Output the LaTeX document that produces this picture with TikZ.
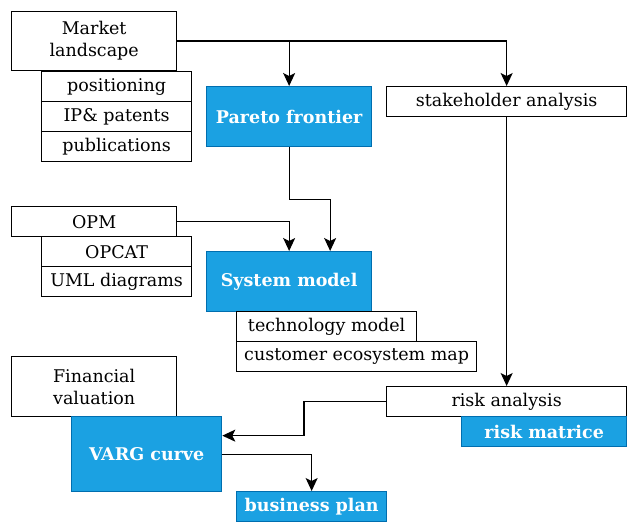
\documentclass[tikz,border=0pt]{standalone}
\usepackage{fontspec}
\setmainfont{DejaVu Serif}
\usepackage{tikz}
\usetikzlibrary{arrows.meta,calc}
\definecolor{boxblue}{HTML}{1BA1E2}
\definecolor{edgeblue}{HTML}{006EAF}

\begin{document}
\begin{tikzpicture}[x=1pt,y=-1pt,
		plain/.style={draw,line width=1.3pt,anchor=north west,inner sep=0pt,align=center,font=\fontsize{17.5}{22}\selectfont},
		hilite/.style={plain,draw=edgeblue,fill=boxblue,text=white,font=\fontsize{17.5}{22}\selectfont\bfseries},
		arr/.style={-{Stealth[length=13pt,width=12pt,inset=3pt]},line width=1.3pt}]
		\useasboundingbox (0,0) rectangle (637,532);
		\node[plain,minimum width=165pt,minimum height=59pt] (market) at (11,11) {Market\\landscape};
		\node[plain,minimum width=150pt,minimum height=30pt] (posit) at (41,71) {positioning};
		\node[plain,minimum width=150pt,minimum height=30pt] (patents) at (41,101) {IP\& patents};
		\node[plain,minimum width=150pt,minimum height=30pt] (pubs) at (41,131) {publications};
		\node[hilite,minimum width=165pt,minimum height=60pt] (pareto) at (206,86) {Pareto frontier};
		\node[plain,minimum width=240pt,minimum height=30pt] (stake) at (386,86) {stakeholder analysis};
		\node[plain,minimum width=165pt,minimum height=30pt] (opm) at (11,206) {OPM};
		\node[plain,minimum width=150pt,minimum height=30pt] (opcat) at (41,236) {OPCAT};
		\node[plain,minimum width=150pt,minimum height=30pt] (uml) at (41,266) {UML diagrams};
		\node[hilite,minimum width=165pt,minimum height=60pt] (sysmodel) at (206,251) {System model};
		\node[plain,minimum width=180pt,minimum height=30pt] (techmodel) at (236,311) {technology model};
		\node[plain,minimum width=240pt,minimum height=30pt] (ecomap) at (236,341) {customer ecosystem map};
		\node[plain,minimum width=165pt,minimum height=60pt] (finval) at (11,356) {Financial\\valuation};
		\node[hilite,minimum width=150pt,minimum height=75pt] (varg) at (71,416) {VARG curve};
		\node[hilite,minimum width=150pt,minimum height=30pt] (bplan) at (236,491) {business plan};
		\node[plain,minimum width=240pt,minimum height=30pt] (risk) at (386,386) {risk analysis};
		\node[hilite,minimum width=165pt,minimum height=30pt] (matrice) at (461,416) {risk matrice};
		% connectors
		\draw[arr] (market.east) -| (pareto.north);
		\draw[arr] (market.east) -| (stake.north);
		\draw[arr] (pareto.south) -- ++(0,52) -| ($(sysmodel.north)+(41,0)$);
		\draw[arr] (opm.east) -| (sysmodel.north);
		\draw[arr] (stake.south) -- (risk.north);
		\draw[arr] (risk.west) -- ++(-82,0) |- ($(varg.east)+(0,-18.5)$);
		\draw[arr] (varg.east) -| (bplan.north);
	\end{tikzpicture}
\end{document}
